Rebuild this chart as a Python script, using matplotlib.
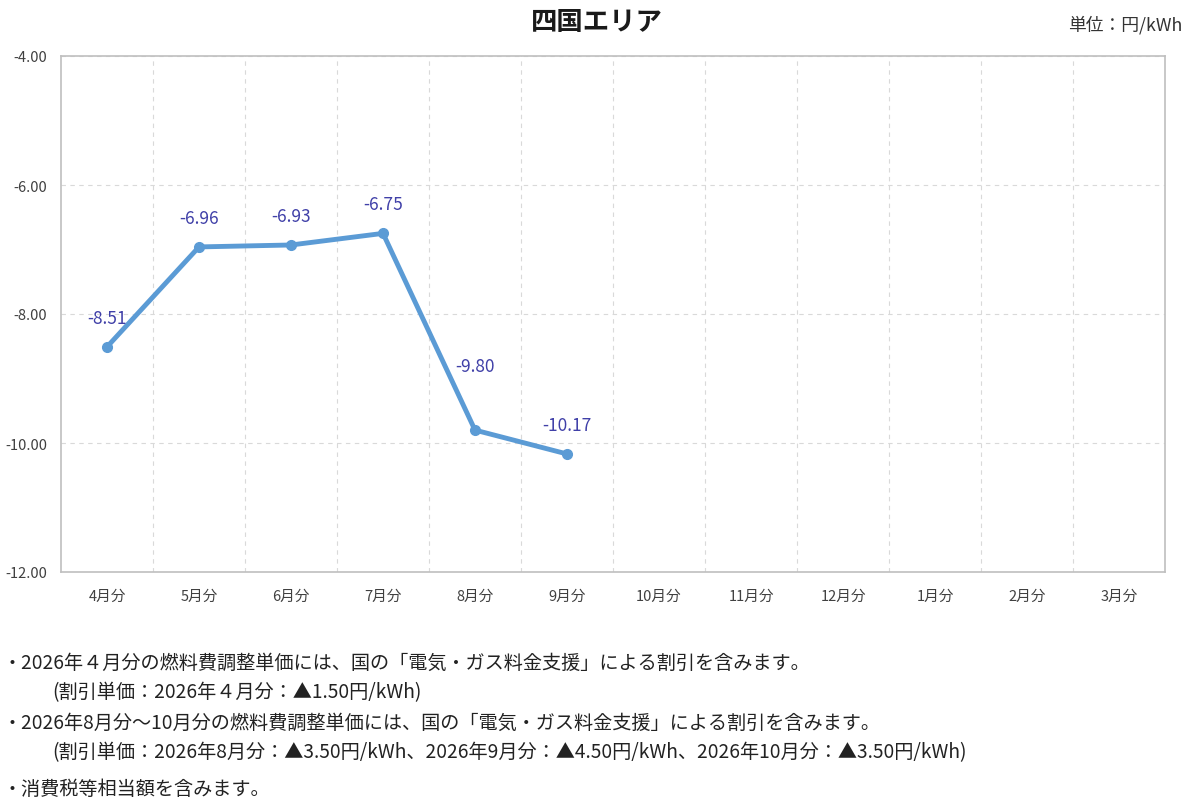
import numpy as np
import matplotlib
matplotlib.use("Agg")
import matplotlib.pyplot as plt

plt.rcParams['font.family'] = ['Noto Sans CJK JP', 'DejaVu Sans']

# ---- data ----
months = ["4月分", "5月分", "6月分", "7月分", "8月分", "9月分",
          "10月分", "11月分", "12月分", "1月分", "2月分", "3月分"]
values = [-8.51, -6.96, -6.93, -6.75, -9.80, -10.17]
yticks = [-4.0, -6.0, -8.0, -10.0, -12.0]

notes = [
    "・2026年４月分の燃料費調整単価には、国の「電気・ガス料金支援」による割引を含みます。",
    "(割引単価：2026年４月分：▲1.50円/kWh)",
    "・2026年8月分～10月分の燃料費調整単価には、国の「電気・ガス料金支援」による割引を含みます。",
    "(割引単価：2026年8月分：▲3.50円/kWh、2026年9月分：▲4.50円/kWh、2026年10月分：▲3.50円/kWh)",
    "・消費税等相当額を含みます。",
]
note_y = [663, 693, 723, 753, 790]
note_x = [2, 52, 2, 52, 2]
# label offsets above each point (points)
label_off = [21, 21, 21, 21, 46, 21]

fig = plt.figure(figsize=(12, 8.12), dpi=100)
ax = fig.add_axes([61/1200, 1-573/812, 1104/1200, 516/812])

x = np.arange(len(months))
vx = x[:len(values)]
ax.plot(vx, values, color="#5B9BD5", lw=3.5, marker="o", ms=7, zorder=3)
for xi, v, off in zip(vx, values, label_off):
    ax.annotate(f"{v:.2f}", (xi, v), xytext=(0, off), textcoords="offset points",
                ha="center", va="center", color="#4040A8", fontsize=12.5)

ax.set_xlim(-0.5, len(months) - 0.5)
ax.set_ylim(-12, -4)
ax.set_yticks(yticks)
ax.set_yticklabels([f"{t:.2f}" for t in yticks], fontsize=10.5, color="#404040")
ax.set_xticks(x)
ax.set_xticklabels(months, fontsize=10.5, color="#404040")
ax.tick_params(axis="x", length=0, pad=12)
ax.tick_params(axis="y", length=0, pad=10)

# grid: vertical dashed lines between categories, horizontal at y ticks
ax.set_xticks(x[:-1] + 0.5, minor=True)
ax.grid(which="minor", axis="x", ls=(0, (4, 4)), color="#D9D9D9", lw=0.8)
ax.grid(which="major", axis="y", ls=(0, (4, 4)), color="#D9D9D9", lw=0.8)
ax.tick_params(which="minor", length=0)
for s in ax.spines.values():
    s.set_color("#BFBFBF")
    s.set_linewidth(1.2)

fig.text(597/1200, 1-22/812, "四国エリア", ha="center", va="center",
         fontsize=19, fontweight="bold", color="#1a1a1a")
fig.text(1182/1200, 1-25/812, "単位：円/kWh", ha="right", va="center",
         fontsize=12.8, color="#333333")

for t, xx, yy in zip(notes, note_x, note_y):
    fig.text(xx/1200, 1-yy/812, t, ha="left", va="center", fontsize=13.8, color="#222222")

fig.savefig("out.png", dpi=100)
